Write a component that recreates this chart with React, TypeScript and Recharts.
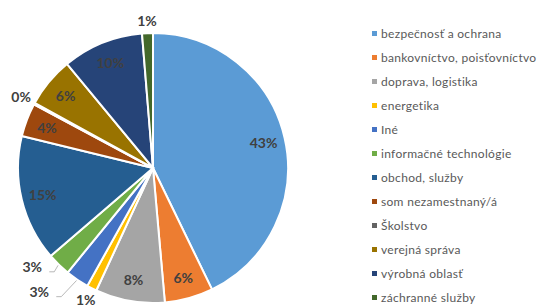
import { Cell, Legend, Pie, PieChart } from 'recharts';

const categories = [
  'bezpečnosť a ochrana',
  'bankovníctvo, poisťovníctvo',
  'doprava, logistika',
  'energetika',
  'Iné',
  'informačné technológie',
  'obchod, služby',
  'som nezamestnaný/á',
  'Školstvo',
  'verejná správa',
  'výrobná oblasť',
  'záchranné služby',
];

const shares = [42.8, 5.8, 8.3, 1.2, 2.8, 2.8, 15.1, 4.0, 0.2, 6.0, 9.7, 1.3];

const colors = [
  '#5b9bd5',
  '#ed7d31',
  '#a5a5a5',
  '#ffc000',
  '#4472c4',
  '#70ad47',
  '#255e91',
  '#9e480e',
  '#636363',
  '#997300',
  '#264478',
  '#43682b',
];

const data = categories.map((name, i) => ({ name, value: shares[i] }));

const RAD = Math.PI / 180;
const FONT = 'Lato, "Open Sans", sans-serif';

// label placement tweaks for the small slices Excel pushed outside
const outsideLabels: Record<string, { angle?: number; r: number; leader?: boolean }> = {
  energetika: { r: 148 },
  Iné: { angle: -132.6, r: 168, leader: true },
  'informačné technológie': { angle: -140.7, r: 156, leader: true },
  'Školstvo': { r: 150 },
  'záchranné služby': { r: 148 },
};

function renderLabel(props: any) {
  const { cx, cy, midAngle, outerRadius, percent, name } = props;
  const text = `${Math.round(percent * 100)}%`;
  const out = outsideLabels[name];
  if (!out) {
    const r = outerRadius * 0.84;
    const x = cx + r * Math.cos(-midAngle * RAD);
    const y = cy + r * Math.sin(-midAngle * RAD);
    return (
      <text x={x} y={y} fill="#404040" fontSize={14} fontWeight={700} fontFamily={FONT} textAnchor="middle" dominantBaseline="central">
        {text}
      </text>
    );
  }
  const ang = out.angle ?? midAngle;
  const x = cx + out.r * Math.cos(-ang * RAD);
  const y = cy + out.r * Math.sin(-ang * RAD);
  const ex = cx + (outerRadius + 1) * Math.cos(-midAngle * RAD);
  const ey = cy + (outerRadius + 1) * Math.sin(-midAngle * RAD);
  return (
    <g>
      {out.leader ? (
        <polyline
          points={`${x + 17},${y + 5} ${x + 22},${y + 5} ${ex},${ey}`}
          fill="none"
          stroke="#a6a6a6"
          strokeWidth={0.8}
        />
      ) : null}
      <text x={x} y={y} fill="#404040" fontSize={14} fontWeight={700} fontFamily={FONT} textAnchor="middle" dominantBaseline="central">
        {text}
      </text>
    </g>
  );
}

function LegendList() {
  return (
    <div style={{ fontFamily: FONT, fontSize: 12, letterSpacing: 0.3, color: '#595959' }}>
      {categories.map((name, i) => (
        <div key={name} style={{ display: 'flex', alignItems: 'center', height: 24, whiteSpace: 'nowrap' }}>
          <span style={{ width: 5, height: 5, background: colors[i], marginRight: 4, flex: 'none' }} />
          {name}
        </div>
      ))}
    </div>
  );
}

export default function App() {
  return (
    <div style={{ position: 'absolute', left: 0, top: 0, width: 543, height: 307, background: '#fff', overflow: 'hidden' }}>
      <PieChart width={543} height={307} margin={{ top: 0, right: 0, bottom: 0, left: 0 }}>
        <Pie
          data={data}
          dataKey="value"
          nameKey="name"
          cx={153}
          cy={168}
          outerRadius={135}
          startAngle={90}
          endAngle={-270}
          stroke="#ffffff"
          strokeWidth={2}
          label={renderLabel}
          labelLine={false}
          isAnimationActive={false}
        >
          {data.map((d, i) => (
            <Cell key={d.name} fill={colors[i]} />
          ))}
        </Pie>
        <Legend
          layout="vertical"
          align="right"
          verticalAlign="top"
          content={() => <LegendList />}
          wrapperStyle={{ left: 372, top: 21, width: 171 }}
        />
      </PieChart>
    </div>
  );
}
